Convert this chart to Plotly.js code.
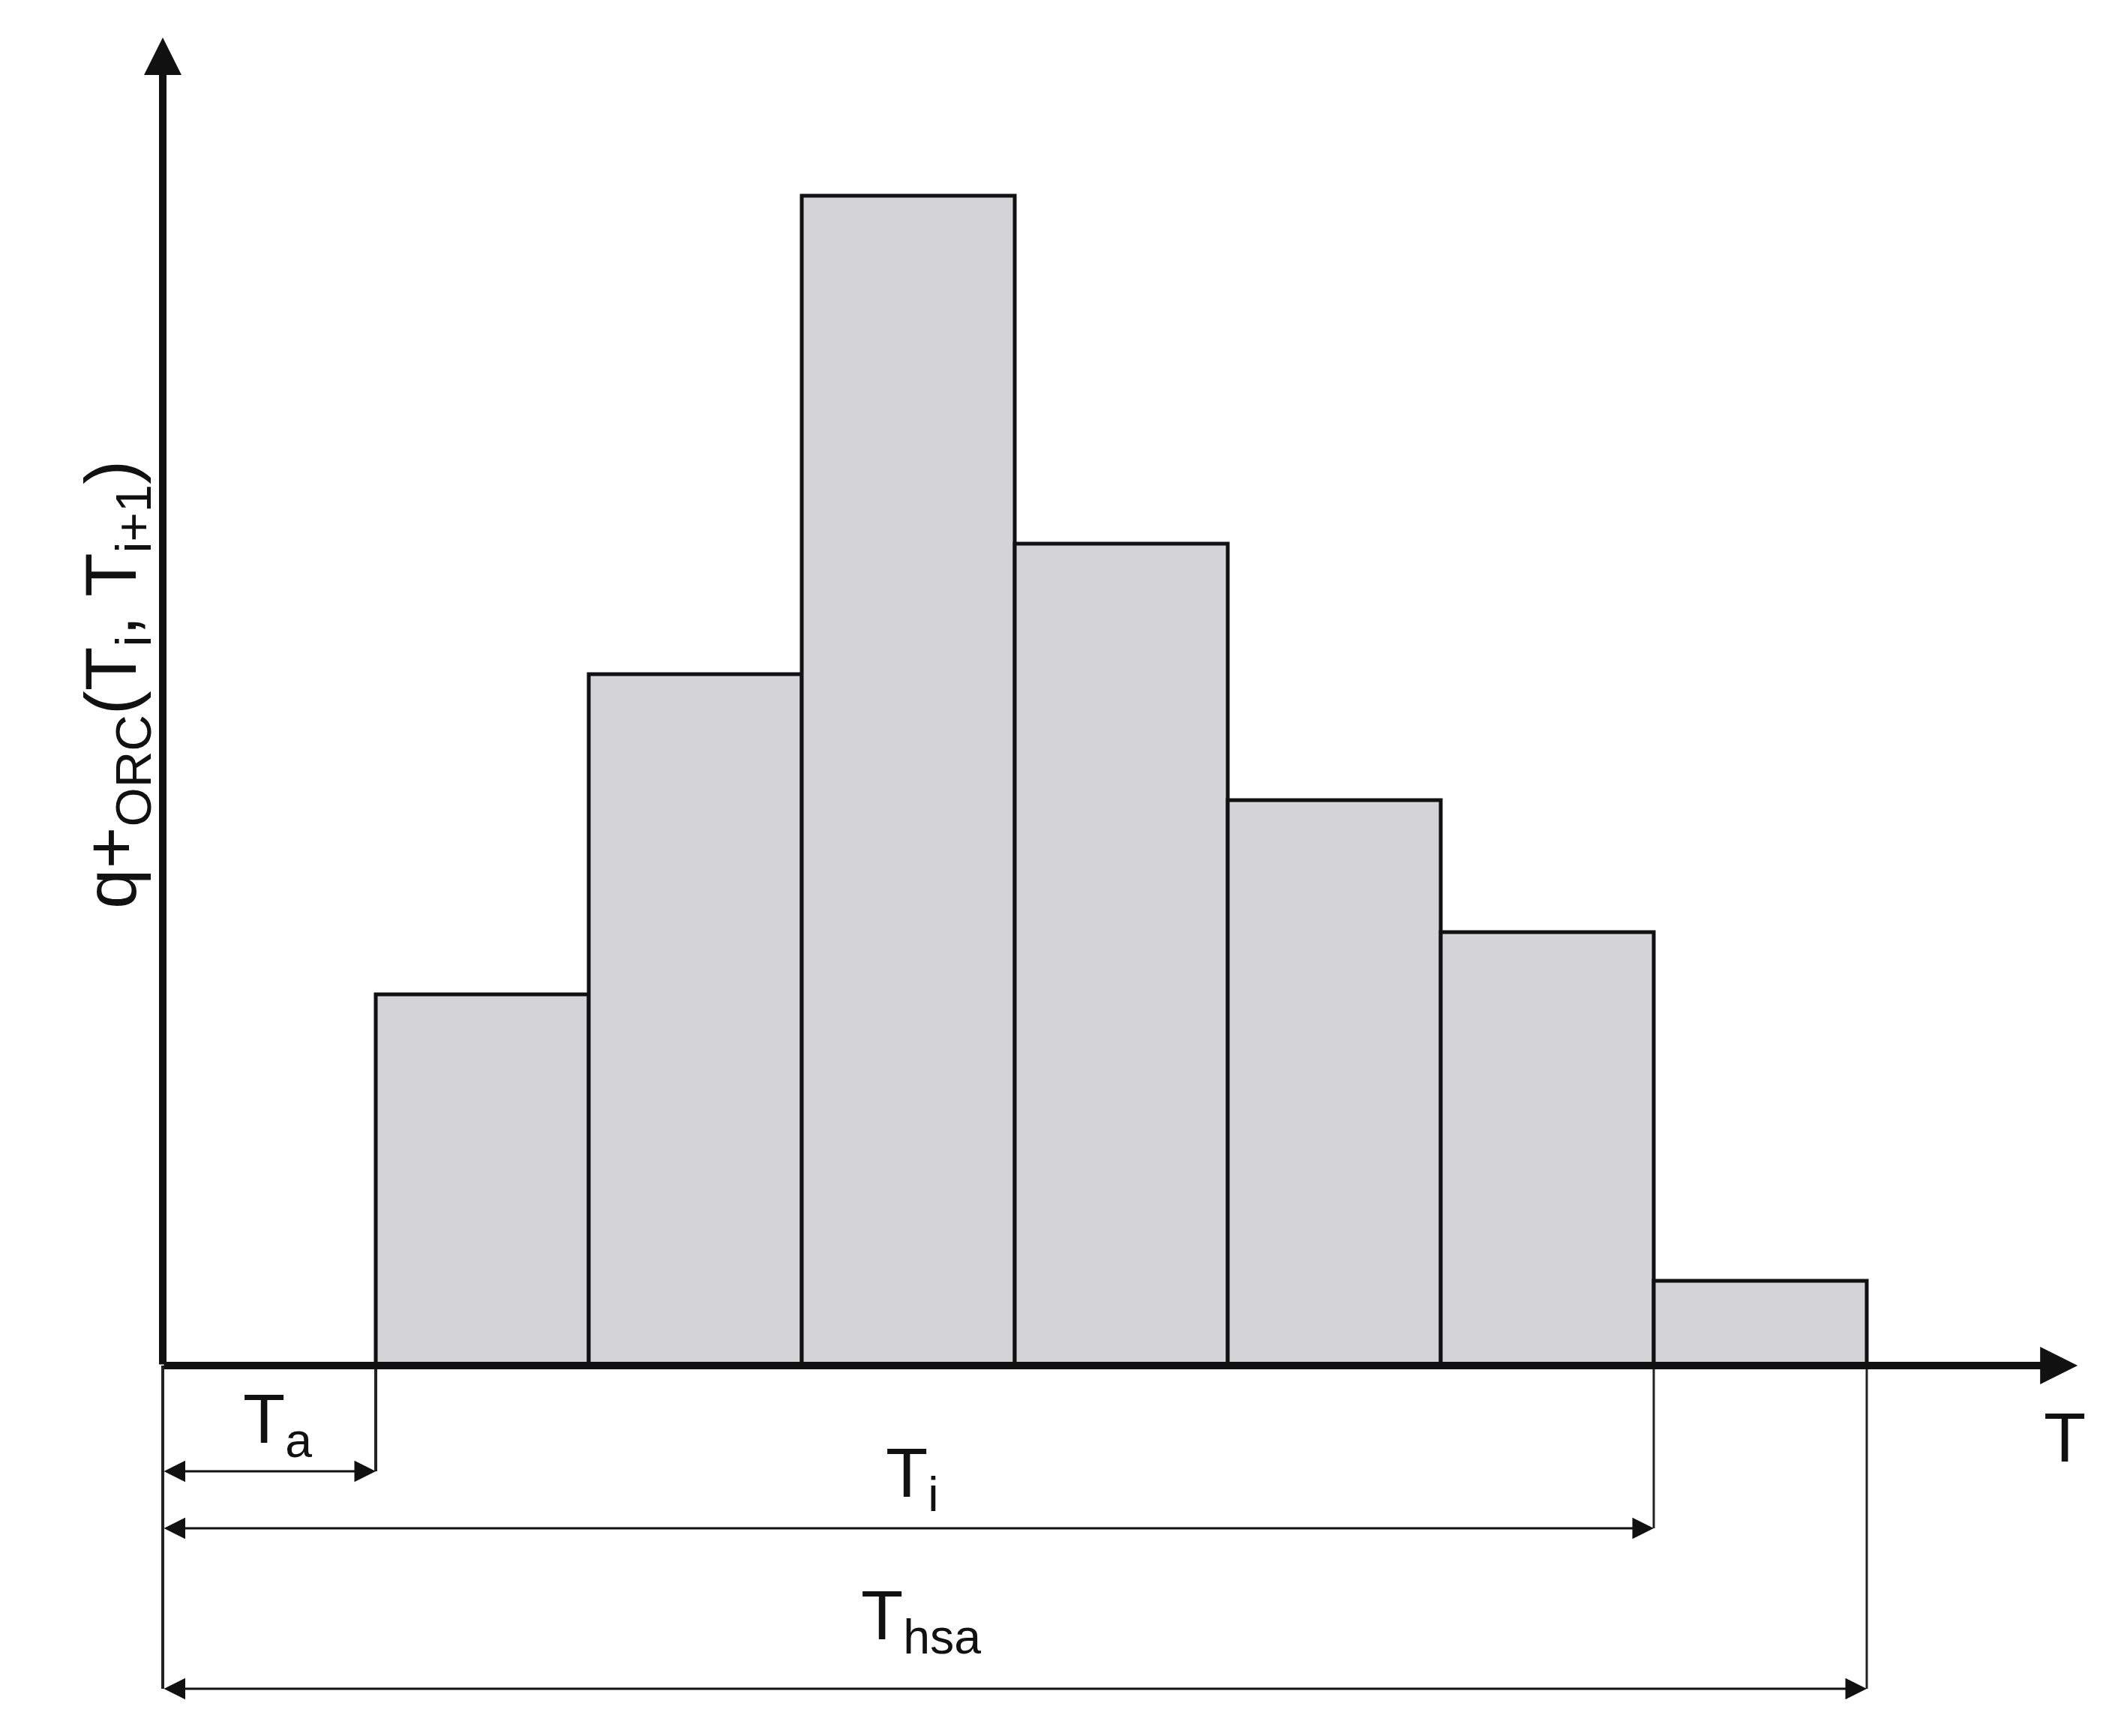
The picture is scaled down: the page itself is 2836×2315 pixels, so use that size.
<!DOCTYPE html>
<html>
<head>
<meta charset="utf-8">
<script src="https://cdn.plot.ly/plotly-3.0.1.min.js"></script>
<style>
  body { margin: 0; background: #ffffff; }
  #grafica { width: 2836px; height: 2315px; }
</style>
</head>
<body>
<div id="grafica"></div>
<script>
// intervalos de temperatura (inicio de cada barra) y calor q+ORC(Ti, Ti+1)
const inicioIntervalo = [1, 2, 3, 4, 5, 6, 7];
const anchoIntervalo = 1;
const calorORC = [4.95, 9.22, 15.60, 10.96, 7.54, 5.78, 1.13];

// cotas bajo el eje T
const Ta = 1;
const Ti = 7;
const Thsa = 8;

// extremos de los ejes
const ejeXMax = 8.99;
const ejeYMax = 17.71;

const fuente = 'Liberation Sans, Arial, sans-serif';
const negro = '#111111';

const centros = inicioIntervalo.map(t => t + anchoIntervalo / 2);

const barras = {
    type: 'bar',
    x: centros,
    y: calorORC,
    width: inicioIntervalo.map(() => anchoIntervalo),
    marker: { color: '#d4d3d5', line: { color: negro, width: 5 } },
    hoverinfo: 'skip'
};

function flechaEje(x0, y0, x1, y1) {
    return {
        x: x1, y: y1, ax: x0, ay: y0,
        xref: 'x', yref: 'y', axref: 'x', ayref: 'y',
        text: '', showarrow: true,
        arrowhead: 2, arrowsize: 1, arrowwidth: 10, arrowcolor: negro,
        standoff: 0
    };
}

function cota(xFin, yCota) {
    return {
        x: xFin, y: yCota, ax: 0, ay: yCota,
        xref: 'x', yref: 'y', axref: 'x', ayref: 'y',
        text: '', showarrow: true,
        arrowside: 'end+start',
        arrowhead: 2, startarrowhead: 2,
        arrowsize: 1.9, startarrowsize: 1.9,
        arrowwidth: 3, arrowcolor: negro,
        standoff: 0, startstandoff: 0
    };
}

function etiqueta(txt, x, y, extra) {
    return Object.assign({
        x: x, y: y, xref: 'x', yref: 'y',
        text: txt, showarrow: false,
        xanchor: 'center', yanchor: 'middle',
        font: { family: fuente, size: 92, color: negro }
    }, extra || {});
}

const yTa = -1.41, yTi = -2.17, yThsa = -4.31;

function lineaGuia(x, yFin, w) {
    return {
        type: 'line', xref: 'x', yref: 'y',
        x0: x, x1: x, y0: 0, y1: yFin,
        line: { color: '#222222', width: w }
    };
}

const layout = {
    width: 2836,
    height: 2315,
    margin: { l: 0, r: 0, t: 0, b: 0 },
    paper_bgcolor: '#ffffff',
    plot_bgcolor: '#ffffff',
    showlegend: false,
    bargap: 0,
    xaxis: { visible: false, range: [-217 / 284, (2836 - 217) / 284], fixedrange: true },
    yaxis: { visible: false, range: [-4.94, 18.21], fixedrange: true },
    shapes: [
        lineaGuia(0, yThsa, 4),
        lineaGuia(Ta, yTa, 4),
        lineaGuia(Ti, yTi, 3),
        lineaGuia(Thsa, yThsa, 3)
    ],
    annotations: [
        flechaEje(0, 0, 0, ejeYMax),
        flechaEje(0, 0, ejeXMax, 0),
        cota(Ta, yTa),
        cota(Ti, yTi),
        cota(Thsa, yThsa),
        etiqueta('T<sub>a</sub>', 0.54, -0.78),
        etiqueta('T<sub>i</sub>', 3.52, -1.50),
        etiqueta('T<sub>hsa</sub>', 3.56, -3.40),
        etiqueta('T', 8.93, -0.96),
        etiqueta('q+<sub>ORC</sub>(T<sub>i</sub>, T<sub>i+1</sub>)', -0.222, 9.08, { textangle: -90, font: { family: fuente, size: 96, color: negro } })
    ]
};

Plotly.newPlot('grafica', [barras], layout, { staticPlot: true });
</script>
</body>
</html>
